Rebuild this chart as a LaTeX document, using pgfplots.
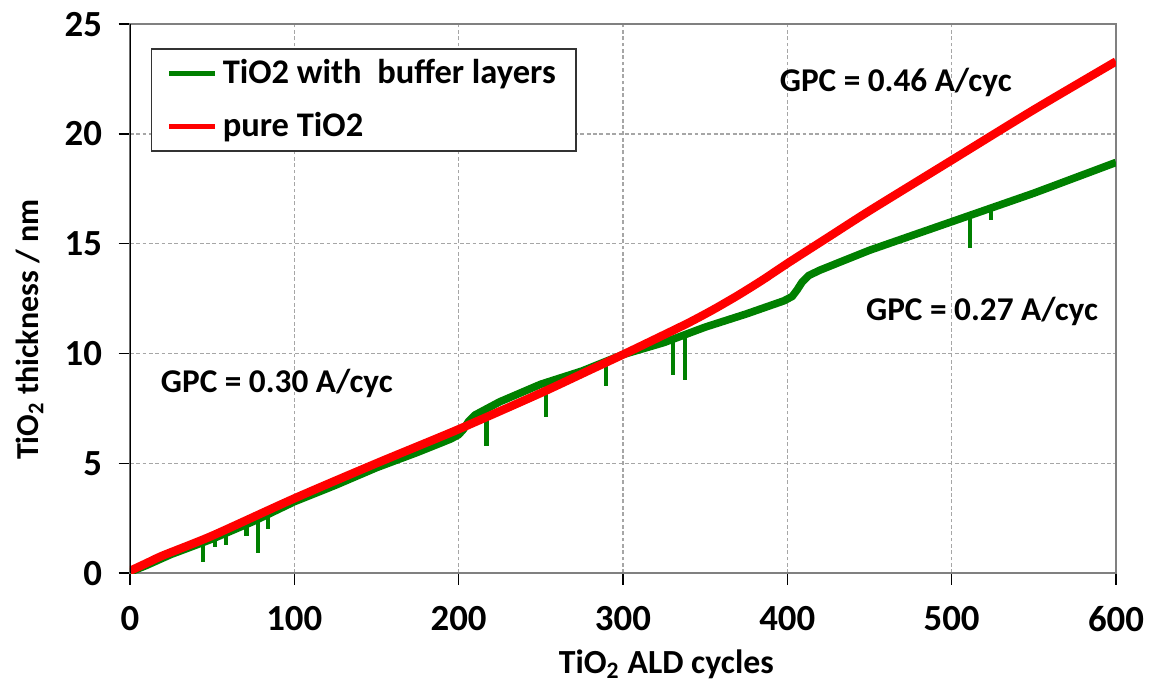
\documentclass[border=0pt]{standalone}
\usepackage{fontspec}
\setmainfont{Carlito}
\usepackage{pgfplots}
\pgfplotsset{compat=1.18}

\definecolor{xlgreen}{RGB}{0,128,0}
\definecolor{xlred}{RGB}{255,0,0}

\begin{document}
\begin{tikzpicture}
\begin{axis}[
    scale only axis, width=388.5pt, height=216.3pt,
    xmin=0, xmax=600, ymin=0, ymax=25,
    xtick={0,100,...,600}, ytick={0,5,...,25},
    tick pos=left,
    tick align=outside, major tick length=4.5pt,
    tick style={black, line width=0.6pt},
    axis line style={draw=gray, line width=0.9pt},
    grid=major, grid style={dash pattern=on 1.5pt off 1pt, gray!70, line width=0.5pt},
    /pgf/number format/assume math mode=true,
    tick label style={font=\bfseries\fontsize{14.5}{16}\selectfont},
    xticklabel style={yshift=-5pt},
    yticklabel style={xshift=-3pt},
    xlabel={TiO\textsubscript{2} ALD cycles},
    ylabel={TiO\textsubscript{2} thickness / nm},
    xlabel style={font=\bfseries\fontsize{13.3}{15}\selectfont,
        at={(axis description cs:0.544,-0.166)}, anchor=center},
    ylabel style={font=\bfseries\fontsize{12.6}{15}\selectfont,
        at={(axis description cs:-0.1015,0.443)}, anchor=center},
    legend style={at={(axis description cs:0.0213,0.956)}, anchor=north west,
        draw=black!80, line width=0.6pt, font=\bfseries\fontsize{13.6}{15}\selectfont,
        inner xsep=6pt, inner ysep=2pt, row sep=6pt, cells={anchor=west}},
    legend image code/.code={\draw[#1, line width=2pt] (0pt,0pt) -- (18pt,0pt);},
    unbounded coords=jump,
    clip=true,
]
% green: TiO2 with buffer layers
\addplot[xlgreen, line width=3pt, line join=round] coordinates {
 (0,0.05) (10,0.35) (25,0.85) (50,1.55) (75,2.35) (100,3.25) (125,4.0) (150,4.8)
 (175,5.5) (195,6.1) (200,6.3) (203,6.55) (206,6.9) (210,7.2) (215,7.4) (225,7.8)
 (250,8.6) (275,9.2) (300,9.95) (325,10.5) (350,11.2) (375,11.8) (398,12.4)
 (403,12.6) (406,12.9) (409,13.25) (413,13.55) (420,13.8) (450,14.7) (475,15.35)
 (500,16.0) (525,16.65) (550,17.3) (575,18.0) (600,18.7)
};
\addlegendentry{TiO2 with\ \ buffer layers}
% green spikes
\addplot[xlgreen, line width=1.7pt, forget plot] coordinates {
 (44.4,1.3) (44.4,0.5) (44.4,nan)
 (51.7,1.55) (51.7,1.2) (51.7,nan)
 (58.4,1.75) (58.4,1.3) (58.4,nan)
 (71,2.15) (71,1.7) (71,nan)
 (77.9,2.35) (77.9,0.9) (77.9,nan)
 (84,2.55) (84,2.0) (84,nan)
 (217,7.4) (217,5.8) (217,nan)
 (253,8.6) (253,7.1) (253,nan)
 (289.7,9.6) (289.7,8.5) (289.7,nan)
 (330.5,10.6) (330.5,9.0) (330.5,nan)
 (337.8,10.8) (337.8,8.8) (337.8,nan)
 (511,16.3) (511,14.8) (511,nan)
 (524,16.6) (524,16.1)
};
% red: pure TiO2
\addplot[xlred, line width=3.3pt, line join=round, smooth, tension=0.4] coordinates {
 (0,0.1) (10,0.45) (20,0.8) (50,1.7) (100,3.4) (150,5.0) (200,6.55) (250,8.2)
 (280,9.25) (300,9.95) (320,10.67) (340,11.4) (355,12.0) (370,12.65) (385,13.35)
 (400,14.1) (425,15.3) (450,16.5) (500,18.8) (550,21.1) (600,23.3)
};
\addlegendentry{pure TiO2}
\node[anchor=west, font=\bfseries\fontsize{13.1}{15}\selectfont] at (axis cs:13.4,8.65) {GPC = 0.30 A/cyc};
\node[anchor=west, font=\bfseries\fontsize{13.1}{15}\selectfont] at (axis cs:390,22.36) {GPC = 0.46 A/cyc};
\node[anchor=west, font=\bfseries\fontsize{13.1}{15}\selectfont] at (axis cs:442.5,11.9) {GPC = 0.27 A/cyc};
\draw[black, line width=0.9pt] (rel axis cs:0,0) -- (rel axis cs:0,1);
\coordinate (bbA) at (rel axis cs:0,0);
\coordinate (bbB) at (rel axis cs:1,1);
\end{axis}
\pgfresetboundingbox
\path ([xshift=-51.2pt,yshift=-45.7pt]bbA) rectangle ([xshift=13.8pt,yshift=9.5pt]bbB);
\end{tikzpicture}
\end{document}
